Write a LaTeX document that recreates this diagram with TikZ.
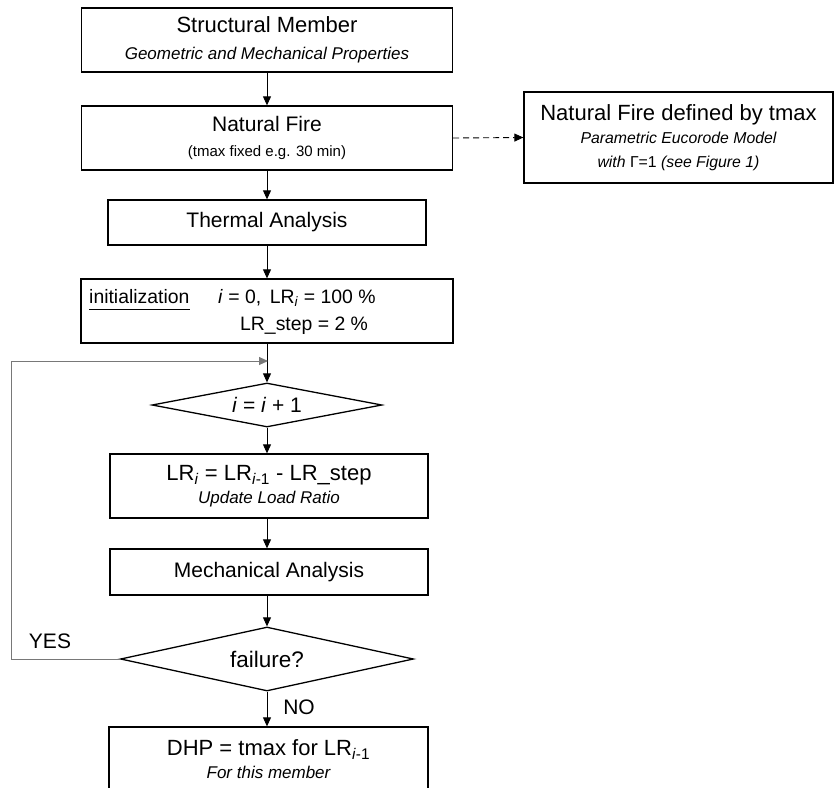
\documentclass[tikz,border=0pt]{standalone}
\usepackage{fontspec}
\setmainfont{Liberation Sans}
\usetikzlibrary{shapes.geometric,arrows.meta}
\newcommand\mytitlefont{\fontsize{22}{24}\selectfont}
\newcommand\mymidfont{\fontsize{21}{24}\selectfont}
\newcommand\mysubfont{\fontsize{17}{19}\selectfont\itshape}
\newcommand\myrbsubfont{\fontsize{15.8}{19}\selectfont}
\newcommand\mysmallfont{\fontsize{15}{18}\selectfont}
\newcommand\myinitfont{\fontsize{19.4}{22}\selectfont}
\begin{document}
\begin{tikzpicture}[x=1pt,y=-1pt,
  box/.style={draw, line width=1.3pt, rectangle, inner sep=0pt, align=center, font=\mytitlefont},
  decision/.style={draw, line width=1.3pt, diamond, aspect=5, inner sep=0pt, font=\mymidfont},
  txt/.style={inner sep=0pt, anchor=base west},
  arr/.style={line width=0.9pt, -{Triangle[length=9pt,width=8pt]}},
  looparr/.style={line width=1pt, draw={rgb,255:red,120;green,120;blue,120}, -{Triangle[length=9pt,width=8pt]}},
  lbl/.style={inner sep=0pt, font=\mymidfont}
]
\useasboundingbox (0,0) rectangle (835,787);
\fill[white] (0,0) rectangle (835,787);
\begin{scope}
\clip (0,0) rectangle (835,787);

\node[box, minimum width=371pt, minimum height=64pt] (b1) at (267,40)
  {Structural Member\\[2.5pt]{\mysubfont Geometric and Mechanical Properties}};
\node[box, font=\mymidfont, minimum width=371pt, minimum height=64pt] (b2) at (267,138)
  {Natural Fire\\[1pt]{\mysmallfont (tmax fixed e.g. 30 min)}};
\node[box, minimum width=309pt, minimum height=91pt] (rb) at (678.5,137.5)
  {Natural Fire defined by tmax\\[-0.5pt]{\myrbsubfont\itshape Parametric Eucorode Model}\\[-0.5pt]{\myrbsubfont\textit{with} Γ=1 \textit{(see Figure 1)}}};
\node[box, font=\mymidfont, minimum width=318pt, minimum height=45pt] (b3) at (267,222.5) {Thermal Analysis};
\node[box, minimum width=372pt, minimum height=64pt] (b4) at (267,311) {};
\node[txt, font=\myinitfont] (initlbl) at (89,303) {initialization};
\node[txt, font=\myinitfont] (initeq1) at (218,303) {\textit{i} = 0,\, LR\textsubscript{\textit{i}} = 100 \%};
\node[txt, font=\myinitfont] (initeq2) at (240,330) {LR\_step = 2 \%};
\draw[line width=0.8pt] ([yshift=-6pt]initlbl.base west) -- ([yshift=-6pt]initlbl.base east);

\node[decision, minimum width=230pt, minimum height=44pt] (d1) at (267,405) {\textit{i} = \textit{i} + 1};
\node[box, minimum width=318pt, minimum height=64pt] (b5) at (269,486)
  {LR\textsubscript{\textit{i}} = LR\textsubscript{\textit{i}-1} - LR\_step\\[-0.5pt]{\mysubfont Update Load Ratio}};
\node[box, font=\mymidfont, minimum width=318pt, minimum height=46pt] (b6) at (269,572) {Mechanical Analysis};
\node[decision, font=\fontsize{22.5}{24}\selectfont, minimum width=293pt, minimum height=64pt] (d2) at (267,659) {failure?};
\node[box, minimum width=319pt, minimum height=64pt] (b7) at (268.5,759)
  {DHP = tmax for LR\textsubscript{\textit{i}-1}\\[-1pt]{\mysubfont For this member}};

\coordinate (j) at (268,361);
\coordinate (lc) at (11,659);

\draw[arr] (b1.south) -- (b2.north);
\draw[arr] (b2.south) -- (b3.north);
\draw[arr] (b3.south) -- (b4.north);
\draw[arr] (b4.south) -- (d1.north);
\draw[arr] (d1.south) -- (b5.north -| d1.south);
\draw[arr] (b5.south -| d1.south) -- (b6.north -| d1.south);
\draw[arr] (b6.south -| d1.south) -- (d2.north);
\draw[arr] (d2.south) -- (b7.north -| d2.south);
\draw[arr, dashed, dash pattern=on 6pt off 4pt] (b2.east) -- (rb.west);
\draw[looparr] (d2.west) -- (lc) |- (j);

\node[lbl] (yes) at (50,641) {YES};
\node[lbl] (no) at (299,707) {NO};
\end{scope}
\end{tikzpicture}
\end{document}
